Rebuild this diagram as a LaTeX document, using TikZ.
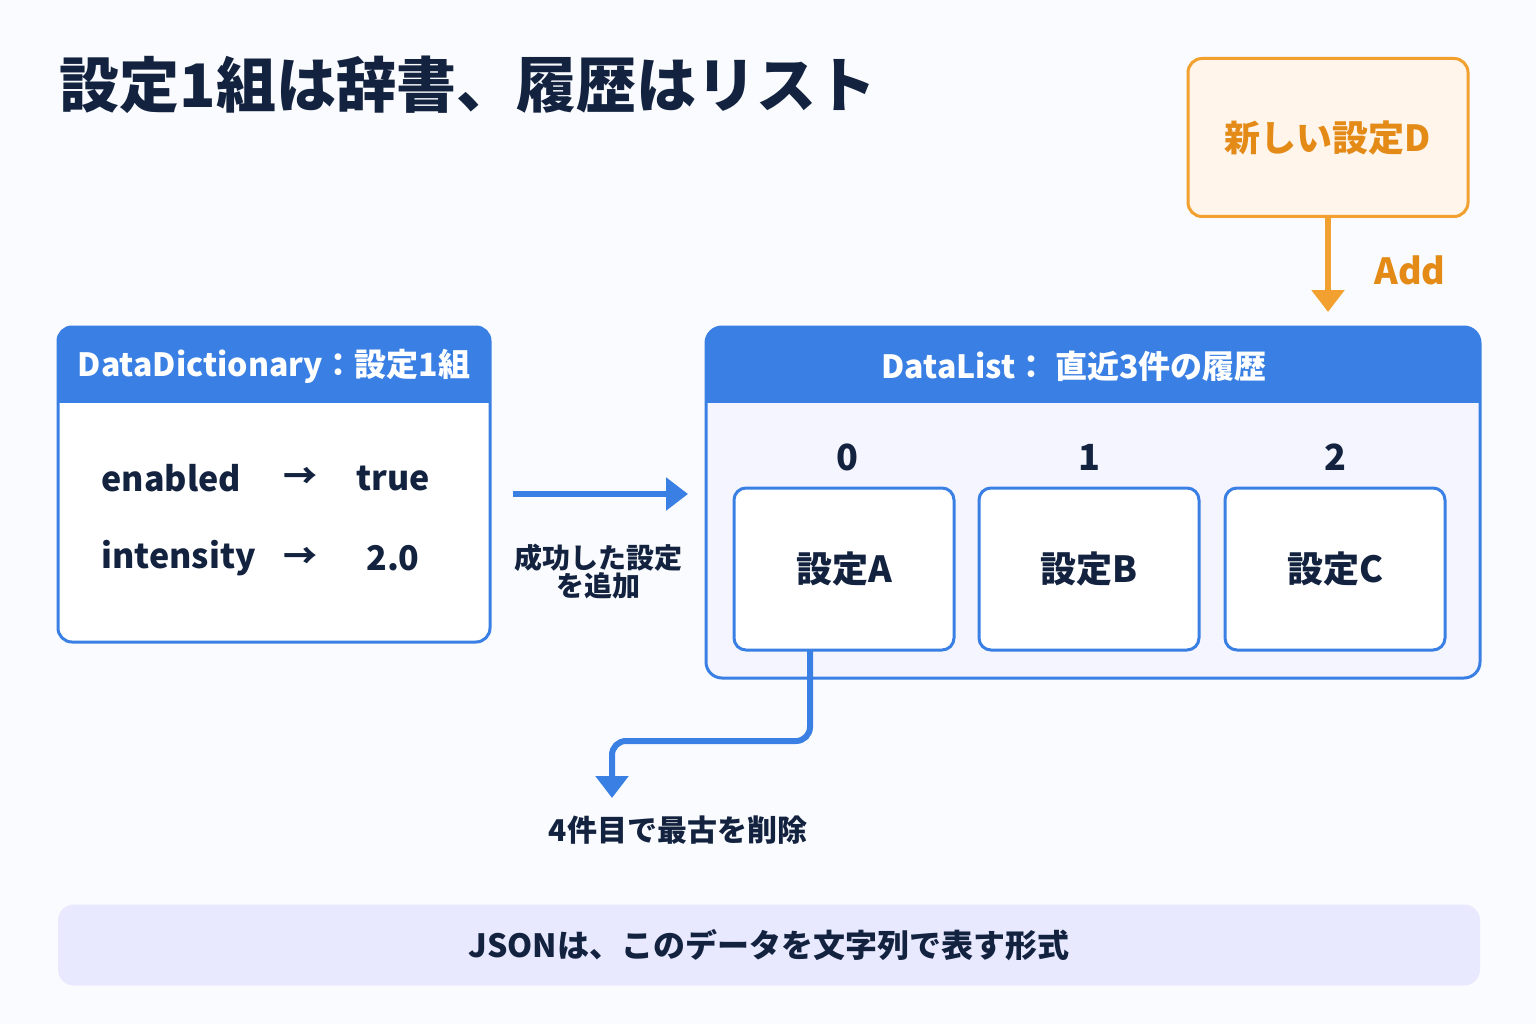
\documentclass[tikz,border=0pt]{standalone}
\usepackage{fontspec}
\setmainfont{Noto Sans CJK JP}
\usetikzlibrary{arrows.meta}
\definecolor{navy}{HTML}{13233F}
\definecolor{blu}{HTML}{3A80E4}
\definecolor{org}{HTML}{F2A030}
\definecolor{orgt}{HTML}{E38A17}
\definecolor{bg}{HTML}{F9FBFE}
\begin{document}
\begin{tikzpicture}[x=1pt,y=-1pt,
  fs/.style={font=\fontsize{#1}{#1}\selectfont\bfseries},
  txt/.style={text=navy},
  cell/.style={draw=blu,line width=3pt,fill=white,rounded corners=12pt},
  conn/.style={line width=6pt,-{Triangle[length=22pt,width=32pt]}}]
\fill[bg] (0,0) rectangle (1536,1024);
\useasboundingbox (0,0) rectangle (1536,1024);
\node[fs=60,txt,anchor=west] (title) at (56,85) {設定1組は辞書、履歴はリスト};
% new setting
\node[draw=org,line width=3pt,fill=orange!8,rounded corners=14pt,minimum width=280pt,minimum height=158pt,fs=36,text=orgt] (newD) at (1328,137.5) {新しい設定D};
\coordinate (addEnd) at (1328,312);
\draw[conn,org] (newD.south) -- (addEnd);
\node[fs=36,text=orgt] (add) at (1410,270) {Add};
% dictionary
\draw[blu,line width=3pt,fill=white,rounded corners=14pt] (58,327) rectangle (490,642);
\fill[blu,rounded corners=14pt] (58,327) rectangle (490,380);
\fill[blu] (58,360) rectangle (490,403);
\node[fs=32,text=white] (dh) at (274,366) {DataDictionary：設定1組};
\node[fs=34,txt,anchor=west] (k1) at (98,478) {enabled};
\node[fs=34,txt] (a1) at (300,478) {→};
\node[fs=34,txt] (v1) at (393,478) {true};
\node[fs=34,txt,anchor=west] (k2) at (98,558) {intensity};
\node[fs=34,txt] (a2) at (300,558) {→};
\node[fs=34,txt] (v2) at (393,558) {2.0};
% arrow
\coordinate (s1) at (513,494);
\coordinate (e1) at (688,494);
\draw[conn,blu] (s1) -- (e1);
\node[fs=28,txt,align=center] (lab1) at (598,572) {成功した設定\\を追加};
% list
\draw[blu,line width=3pt,fill=blue!4,rounded corners=16pt] (706,327) rectangle (1480,678);
\fill[blu,rounded corners=16pt] (706,327) rectangle (1480,380);
\fill[blu] (706,360) rectangle (1480,403);
\node[fs=32,text=white] (lh) at (1074,366) {DataList： 直近3件の履歴};
\node[fs=36,txt] (i0) at (847,457) {0};
\node[fs=36,txt] (i1) at (1089,457) {1};
\node[fs=36,txt] (i2) at (1335,457) {2};
\node[cell,minimum width=220pt,minimum height=162pt,fs=36,txt] (A) at (844,569) {設定A};
\node[cell,minimum width=220pt,minimum height=162pt,fs=36,txt] (B) at (1089,569) {設定B};
\node[cell,minimum width=220pt,minimum height=162pt,fs=36,txt] (C) at (1335,569) {設定C};
\coordinate (del) at (612,798);
\draw[blu,line width=6pt,rounded corners=14pt,-{Triangle[length=22pt,width=32pt]}] (810,650) -- (810,741) -- (612,741) -- (del);
\node[fs=30,txt] (dl) at (678,830) {4件目で最古を削除};
% bottom
\node[fill=blue!9,rounded corners=16pt,minimum width=1422pt,minimum height=81pt,fs=32,txt] (json) at (769,945) {JSONは、このデータを文字列で表す形式};
\end{tikzpicture}
\end{document}
